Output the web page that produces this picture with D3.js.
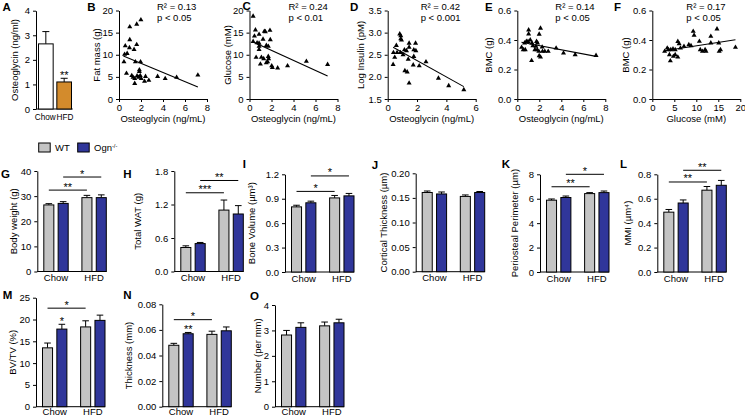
<!DOCTYPE html>
<html>
<head>
<meta charset="utf-8">
<script src="https://cdn.jsdelivr.net/npm/d3@7"></script>
<style>
    body { margin: 0; background: #fff; }
    svg { font-family: "Liberation Sans", Arial, sans-serif; }
</style>
</head>
<body>
<script>
// ---------- data ----------
const groups = ["Chow", "HFD"];
const genotypes = ["WT", "Ogn-/-"];

// A: serum osteoglycin
const osteoglycinMean = [2.65, 1.1];
const osteoglycinSem = [0.5, 0.15];

// B: fat mass vs osteoglycin
const fatMassPts = [[0.98, 16.3], [1.61, 16.9], [1.99, 17.9], [0.98, 13.4], [0.57, 12.0], [0.95, 11.6],
    [1.61, 12.3], [1.37, 11.2], [0.51, 10.1], [0.74, 10.3], [0.45, 8.4], [1.49, 8.4], [1.96, 8.4],
    [0.68, 5.8], [1.16, 5.3], [1.28, 4.9], [1.43, 4.6], [1.85, 6.6], [1.85, 6.2], [1.64, 5.2],
    [1.79, 4.9], [2.02, 4.6], [1.93, 5.3], [2.41, 5.1], [2.71, 4.2], [2.32, 4.0], [1.43, 3.5],
    [3.51, 5.1], [4.2, 4.6], [5.24, 4.9], [7.17, 5.4]];
const fatMassFit = [[0.4, 9.7], [7.17, 2.7]];

// C: glucose vs osteoglycin
const glucosePts = [[0.33, 18.7], [0.54, 15.6], [0.45, 14.2], [0.87, 14.6], [0.33, 13.0], [0.69, 12.7],
    [0.87, 12.6], [0.87, 11.9], [0.87, 11.2], [1.23, 13.5], [1.35, 15.3], [1.44, 15.2], [1.86, 15.5],
    [1.89, 13.4], [1.53, 12.1], [1.71, 11.9], [0.6, 9.4], [1.08, 9.4], [1.29, 9.1], [1.71, 9.6],
    [1.74, 9.1], [1.53, 8.2], [1.65, 8.4], [0.99, 7.9], [2.02, 7.5], [2.08, 7.1], [2.56, 7.0],
    [3.46, 7.5], [5.17, 8.5], [7.1, 7.8]];
const glucoseFit = [[0.3, 12.9], [7.1, 5.2]];

// D: log insulin vs osteoglycin
const insulinPts = [[0.82, 2.97], [0.89, 2.93], [0.89, 2.86], [0.94, 2.83], [0.59, 2.71], [1.46, 2.76],
    [1.9, 2.76], [1.46, 2.67], [1.78, 2.61], [1.92, 2.59], [1.14, 2.61], [1.28, 2.59], [0.39, 2.55],
    [0.64, 2.55], [0.87, 2.55], [1.05, 2.5], [0.48, 2.44], [1.4, 2.4], [1.78, 2.46], [2.61, 2.34],
    [0.37, 2.28], [1.74, 2.27], [2.15, 2.25], [1.17, 2.14], [1.33, 2.11], [1.46, 1.86], [3.46, 1.97],
    [4.16, 1.8], [5.19, 1.71]];
const insulinFit = [[0.37, 2.67], [5.19, 1.78]];

// E: BMC vs osteoglycin
const bmcOgnPts = [[0.39, 0.35], [0.54, 0.334], [0.72, 0.334], [0.66, 0.38], [0.82, 0.39], [1.03, 0.468],
    [1.03, 0.441], [0.97, 0.39], [1.18, 0.4], [1.33, 0.38], [1.42, 0.361], [1.3, 0.26], [1.75, 0.39],
    [1.84, 0.38], [1.99, 0.439], [2.11, 0.48], [1.69, 0.357], [1.6, 0.334], [1.81, 0.334], [1.96, 0.323],
    [1.99, 0.293], [2.11, 0.284], [2.26, 0.352], [2.29, 0.323], [2.5, 0.323], [2.81, 0.323], [3.53, 0.345],
    [4.2, 0.311], [5.26, 0.3], [7.16, 0.295]];
const bmcOgnFit = [[0.38, 0.385], [7.16, 0.289]];

// F: BMC vs glucose
const bmcGluPts = [[2.8, 0.323], [3.4, 0.345], [3.7, 0.334], [4.2, 0.334], [4.7, 0.339], [3.9, 0.3],
    [4.1, 0.259], [4.8, 0.289], [5.2, 0.3], [5.8, 0.284], [5.2, 0.334], [5.8, 0.39], [6.1, 0.375],
    [6.4, 0.345], [7.2, 0.357], [8.3, 0.368], [8.8, 0.361], [9.3, 0.459], [9.5, 0.432], [10.7, 0.391],
    [10.9, 0.334], [11.4, 0.323], [12.0, 0.334], [12.2, 0.323], [13.3, 0.38], [13.3, 0.425], [14.7, 0.475],
    [15.1, 0.38], [15.2, 0.323], [15.5, 0.334], [18.9, 0.35]];
const bmcGluFit = [[2.8, 0.327], [18.9, 0.402]];

// G-O: order is WT Chow, Ogn Chow, WT HFD, Ogn HFD
const bodyWeight = [26.5, 27.1, 29.4, 29.4];
const bodyWeightSem = [0.5, 0.7, 0.9, 1.1];
const totalWat = [0.43, 0.50, 1.10, 1.03];
const totalWatSem = [0.03, 0.02, 0.18, 0.15];
const boneVolume = [0.80, 0.85, 0.91, 0.935];
const boneVolumeSem = [0.02, 0.02, 0.03, 0.03];
const corticalThickness = [0.161, 0.158, 0.153, 0.161];
const corticalThicknessSem = [0.003, 0.004, 0.003, 0.002];
const periostealPerimeter = [5.88, 6.10, 6.42, 6.50];
const periostealPerimeterSem = [0.10, 0.12, 0.08, 0.13];
const mmi = [0.49, 0.565, 0.67, 0.71];
const mmiSem = [0.022, 0.025, 0.03, 0.04];
const bvtv = [13.5, 17.8, 18.3, 19.8];
const bvtvSem = [1.1, 1.1, 1.4, 1.2];
const trabThickness = [0.048, 0.057, 0.0565, 0.0593];
const trabThicknessSem = [0.0015, 0.001, 0.0025, 0.003];
const trabNumber = [2.82, 3.12, 3.18, 3.30];
const trabNumberSem = [0.18, 0.18, 0.15, 0.14];

// significance: [from bar, to bar, level, label]
const bodyWeightSig = [[0, 2, 32.4, "**"], [1, 3, 37.6, "*"]];
const totalWatSig = [[0, 2, 1.41, "***"], [1, 3, 1.63, "**"]];
const boneVolumeSig = [[0, 2, 0.99, "*"], [1, 3, 1.18, "*"]];
const periostealSig = [[0, 2, 6.98, "**"], [1, 3, 8.0, "*"]];
const mmiSig = [[0, 2, 0.737, "**"], [1, 3, 0.833, "**"]];
const bvtvSig = [[0, 2, 22.6, "*"]];
const trabThicknessSig = [[0, 2, 0.068, "*"]];

// ---------- drawing ----------
const FILL = { "WT": "#c4c4c4", "Ogn-/-": "#30369a" };
const FS = 9.5;

const svg = d3.select("body").append("svg")
    .attr("width", 745)
    .attr("height", 417);

const letter = (txt, x, y) => {
    svg.append("text")
        .attr("x", x).attr("y", y)
        .attr("font-size", 11.5)
        .attr("font-weight", "bold")
        .text(txt);
};

const yTitle = (parent, txt, x, yMid) => {
    return parent.append("text")
        .attr("transform", `translate(${x},${yMid}) rotate(-90)`)
        .attr("text-anchor", "middle")
        .attr("dy", "0.35em")
        .attr("font-size", FS)
        .text(txt);
};

const styleAxis = (sel) => {
    sel.selectAll("text").attr("font-size", FS).attr("fill", "#000")
        .attr("font-family", "Liberation Sans, Arial, sans-serif");
    sel.selectAll("path, line").attr("stroke", "#000").attr("stroke-width", 1);
};

let scatterPanel = (cfg) => {
    const g = svg.append("g");
    const x = d3.scaleLinear().domain(cfg.xDomain).range([cfg.x0, cfg.x0 + 88]);
    const y = d3.scaleLinear().domain(cfg.yDomain).range([99, 10.5]);

    g.append("g")
        .attr("transform", `translate(${cfg.x0},0)`)
        .call(d3.axisLeft(y).tickValues(cfg.yTicks).tickFormat(cfg.yFmt).tickSize(3).tickPadding(3).tickSizeOuter(0))
        .call(styleAxis);
    g.append("g")
        .attr("transform", `translate(0,99)`)
        .call(d3.axisBottom(x).tickValues(cfg.xTicks).tickFormat(d3.format("d")).tickSize(3).tickPadding(2.5).tickSizeOuter(0))
        .call(styleAxis);

    g.append("g")
        .selectAll("path")
        .data(cfg.pts)
        .join("path")
        .attr("d", d3.symbol(d3.symbolTriangle, 11))
        .attr("transform", d => `translate(${x(d[0])},${y(d[1])})`)
        .attr("fill", "#000");

    g.append("line")
        .attr("x1", x(cfg.fit[0][0])).attr("y1", y(cfg.fit[0][1]))
        .attr("x2", x(cfg.fit[1][0])).attr("y2", y(cfg.fit[1][1]))
        .attr("stroke", "#000").attr("stroke-width", 1.1);

    g.append("text")
        .attr("x", cfg.x0 + 88 / 2).attr("y", 122.2)
        .attr("text-anchor", "middle").attr("font-size", FS)
        .text(cfg.xTitle);
    yTitle(g, cfg.yTitle, cfg.x0 - cfg.titleOff, 55);

    g.append("text").attr("font-size", FS)
        .attr("x", cfg.x0 + cfg.statOff).attr("y", 10)
        .text("R\u00b2 = " + cfg.r2);
    g.append("text").attr("font-size", FS)
        .attr("x", cfg.x0 + cfg.statOff).attr("y", 21.3)
        .text(cfg.p);
};

let barPanel = (cfg) => {
    const g = svg.append("g");
    const y = d3.scaleLinear().domain([0, cfg.max]).range([cfg.bottom, cfg.top]);
    const gx = d3.scaleBand().domain(groups).range([cfg.x0 + 6.5, cfg.x0 + 69]).paddingInner(0.36);
    const sx = d3.scaleBand().domain(genotypes).range([0, gx.bandwidth()]).paddingInner(0.3);
    const bars = cfg.values.map((v, i) => ({
        grp: groups[i >> 1], gen: genotypes[i % 2], v: v, e: cfg.errs[i]
    }));
    const cx = i => gx(bars[i].grp) + sx(bars[i].gen) + sx.bandwidth() / 2;

    g.append("g")
        .attr("transform", `translate(${cfg.x0},0)`)
        .call(d3.axisLeft(y).tickValues(cfg.ticks).tickFormat(cfg.fmt).tickSize(3).tickPadding(3).tickSizeOuter(0))
        .call(styleAxis);

    g.append("line")
        .attr("x1", cfg.x0).attr("x2", cfg.x0 + 69)
        .attr("y1", cfg.bottom).attr("y2", cfg.bottom)
        .attr("stroke", "#000");

    // error bars first so the bar outline sits over their foot
    g.append("g").selectAll("path")
        .data(bars)
        .join("path")
        .attr("d", (d, i) => {
            const c = cx(i), top = y(d.v + d.e);
            return `M${c},${y(d.v)}V${top}M${c - 3.3},${top}H${c + 3.3}`;
        })
        .attr("stroke", "#000").attr("fill", "none");

    g.append("g").selectAll("rect")
        .data(bars)
        .join("rect")
        .attr("x", d => gx(d.grp) + sx(d.gen))
        .attr("y", d => y(d.v))
        .attr("width", sx.bandwidth())
        .attr("height", d => cfg.bottom - y(d.v))
        .attr("fill", d => FILL[d.gen])
        .attr("stroke", "#000").attr("stroke-width", 1);

    g.append("g").selectAll("text")
        .data(groups)
        .join("text")
        .attr("x", d => gx(d) + gx.bandwidth() / 2)
        .attr("y", cfg.bottom + (cfg.labelDy || 9.5))
        .attr("text-anchor", "middle").attr("font-size", FS)
        .text(d => d);

    (cfg.sig || []).forEach(s => {
        const ly = y(s[2]);
        g.append("line")
            .attr("x1", cx(s[0])).attr("x2", cx(s[1]))
            .attr("y1", ly).attr("y2", ly)
            .attr("stroke", "#000");
        g.append("text")
            .attr("x", (cx(s[0]) + cx(s[1])) / 2).attr("y", ly + 0.5)
            .attr("text-anchor", "middle").attr("font-size", 11)
            .text(s[3]);
    });
    if (cfg.barStar) {
        const i = cfg.barStar[0];
        g.append("text")
            .attr("x", cx(i)).attr("y", y(bars[i].v + bars[i].e) + 1)
            .attr("text-anchor", "middle").attr("font-size", 11)
            .text(cfg.barStar[1]);
    }

    yTitle(g, cfg.title, cfg.x0 - cfg.titleOff, (cfg.top + cfg.bottom) / 2);
};

// ---------- A ----------
{
    const g = svg.append("g");
    const y = d3.scaleLinear().domain([0, 4]).range([109, 10.7]);
    const x = d3.scaleBand().domain(groups).range([38.5, 71.5]).paddingInner(0.2);
    g.append("g").attr("transform", "translate(36,0)")
        .call(d3.axisLeft(y).ticks(4).tickFormat(d3.format("d")).tickSize(3).tickPadding(3).tickSizeOuter(0))
        .call(styleAxis);
    g.append("line").attr("x1", 36).attr("x2", 72.7).attr("y1", 109).attr("y2", 109).attr("stroke", "#000");
    groups.forEach((grp, i) => {
        const c = x(grp) + x.bandwidth() / 2, top = y(osteoglycinMean[i] + osteoglycinSem[i]);
        g.append("path")
            .attr("d", `M${c},${y(osteoglycinMean[i])}V${top}M${c - 3.5},${top}H${c + 3.5}`)
            .attr("stroke", "#000");
        g.append("rect")
            .attr("x", x(grp)).attr("y", y(osteoglycinMean[i]))
            .attr("width", x.bandwidth()).attr("height", 109 - y(osteoglycinMean[i]))
            .attr("fill", i === 0 ? "#fff" : "#d38b2c")
            .attr("stroke", "#000");
        g.append("text")
            .attr("x", c + (i === 0 ? -0.6 : 0.8)).attr("y", 120)
            .attr("text-anchor", "middle").attr("font-size", 8.2)
            .text(grp);
    });
    g.append("text")
        .attr("x", x("HFD") + x.bandwidth() / 2).attr("y", y(osteoglycinMean[1] + osteoglycinSem[1]) + 1)
        .attr("text-anchor", "middle").attr("font-size", 11).text("**");
    yTitle(g, "Osteoglycin (ng/ml)", 15, 60);
}

const osteoTicks = [0, 2, 4, 6, 8];
scatterPanel({ x0: 119, xDomain: [0, 8], yDomain: [0, 20], xTicks: osteoTicks, yTicks: [0, 5, 10, 15, 20],
    yFmt: d3.format("d"), pts: fatMassPts, fit: fatMassFit, xTitle: "Osteoglycin (ng/mL)",
    yTitle: "Fat mass (g)", titleOff: 22, statOff: 38, r2: "0.13", p: "p < 0.05" });
scatterPanel({ x0: 249.5, xDomain: [0, 8], yDomain: [0, 20], xTicks: osteoTicks, yTicks: [0, 5, 10, 15, 20],
    yFmt: d3.format("d"), pts: glucosePts, fit: glucoseFit, xTitle: "Osteoglycin (ng/mL)",
    yTitle: "Glucose (mM)", titleOff: 22, statOff: 39, r2: "0.24", p: "p < 0.01" });
scatterPanel({ x0: 387.7, xDomain: [0, 6], yDomain: [1.5, 3.5], xTicks: [0, 2, 4, 6], yTicks: [1.5, 2.0, 2.5, 3.0, 3.5],
    yFmt: d3.format(".1f"), pts: insulinPts, fit: insulinFit, xTitle: "Osteoglycin (ng/mL)",
    yTitle: "Log Insulin (pM)", titleOff: 27, statOff: 33, r2: "0.42", p: "p < 0.001" });
scatterPanel({ x0: 517.3, xDomain: [0, 8], yDomain: [0, 0.6], xTicks: osteoTicks, yTicks: [0, 0.2, 0.4, 0.6],
    yFmt: d3.format(".1f"), pts: bmcOgnPts, fit: bmcOgnFit, xTitle: "Osteoglycin (ng/mL)",
    yTitle: "BMC (g)", titleOff: 29, statOff: 38, r2: "0.14", p: "p < 0.05" });
scatterPanel({ x0: 652.3, xDomain: [0, 20], yDomain: [0, 0.6], xTicks: [0, 5, 10, 15, 20], yTicks: [0, 0.2, 0.4, 0.6],
    yFmt: d3.format(".1f"), pts: bmcGluPts, fit: bmcGluFit, xTitle: "Glucose (mM)",
    yTitle: "BMC (g)", titleOff: 27, statOff: 34, r2: "0.17", p: "p < 0.05" });

// ---------- legend ----------
{
    const lg = svg.append("g");
    [["WT", 38.7, 55], ["Ogn-/-", 77.7, 94]].forEach(([gen, bx, tx]) => {
        lg.append("rect").attr("x", bx).attr("y", 143).attr("width", 11.5).attr("height", 9)
            .attr("fill", FILL[gen]).attr("stroke", "#000");
        const t = lg.append("text").attr("x", tx).attr("y", 151).attr("font-size", FS);
        if (gen === "WT") t.text("WT");
        else {
            t.append("tspan").text("Ogn");
            t.append("tspan").attr("font-size", FS * 0.6).attr("dy", "-0.6em").text("-/-");
        }
    });
}

// ---------- G-L ----------
barPanel({ x0: 37.3, top: 171, bottom: 271.5, max: 40, ticks: [0, 10, 20, 30, 40], fmt: d3.format("d"),
    values: bodyWeight, errs: bodyWeightSem, sig: bodyWeightSig, title: "Body weight (g)", titleOff: 24 });
barPanel({ x0: 174.3, top: 171, bottom: 271.5, max: 1.8, ticks: [0, 0.6, 1.2, 1.8], fmt: d3.format(".1f"),
    values: totalWat, errs: totalWatSem, sig: totalWatSig, title: "Total WAT (g)", titleOff: 37 });
barPanel({ x0: 285, top: 174.3, bottom: 272, max: 1.2, ticks: [0, 0.3, 0.6, 0.9, 1.2], fmt: d3.format(".1f"),
    values: boneVolume, errs: boneVolumeSem, sig: boneVolumeSig, title: "Bone Volume (\u00b5m\u00b3)", titleOff: 33 });
barPanel({ x0: 415.7, top: 173.3, bottom: 271.7, max: 0.2, ticks: [0, 0.05, 0.1, 0.15, 0.2], fmt: d3.format(".2f"),
    values: corticalThickness, errs: corticalThicknessSem, title: "Cortical Thickness (\u00b5m)", titleOff: 32 });
barPanel({ x0: 540, top: 174.3, bottom: 272, max: 8, ticks: [0, 2, 4, 6, 8], fmt: d3.format("d"),
    values: periostealPerimeter, errs: periostealPerimeterSem, sig: periostealSig, title: "Periosteal Perimeter (\u00b5m)", titleOff: 25 });
barPanel({ x0: 657.3, top: 174.3, bottom: 272, max: 0.8, ticks: [0, 0.2, 0.4, 0.6, 0.8], fmt: d3.format(".1f"),
    values: mmi, errs: mmiSem, sig: mmiSig, title: "MMI (\u00b5m\u2074)", titleOff: 30 });

// ---------- M-O ----------
barPanel({ x0: 36, top: 297.7, bottom: 406.7, labelDy: 8.3, max: 25, ticks: [0, 5, 10, 15, 20, 25], fmt: d3.format("d"),
    values: bvtv, errs: bvtvSem, sig: bvtvSig, barStar: [1, "*"], title: "BV/TV (%)", titleOff: 23 });
barPanel({ x0: 162.3, top: 304.3, bottom: 406.7, labelDy: 8.3, max: 0.08, ticks: [0, 0.02, 0.04, 0.06, 0.08], fmt: d3.format(".2f"),
    values: trabThickness, errs: trabThicknessSem, sig: trabThicknessSig, barStar: [1, "**"], title: "Thickness (mm)", titleOff: 34 });
barPanel({ x0: 275, top: 305, bottom: 406.7, labelDy: 8.3, max: 4, ticks: [0, 1, 2, 3, 4], fmt: d3.format("d"),
    values: trabNumber, errs: trabNumberSem, title: "Number (per mm)", titleOff: 17 });

// ---------- panel letters ----------
[["A", 2.5, 11], ["B", 87.3, 11], ["C", 242.5, 9.5], ["D", 350, 11], ["E", 485, 11], ["F", 614, 11],
 ["G", 1, 177.5], ["H", 123.3, 178], ["I", 242.7, 168], ["J", 371.7, 169], ["K", 501.7, 168], ["L", 620, 168],
 ["M", 2.7, 299], ["N", 123.3, 299], ["O", 250, 300]].forEach(d => letter(d[0], d[1], d[2]));
</script>
</body>
</html>
